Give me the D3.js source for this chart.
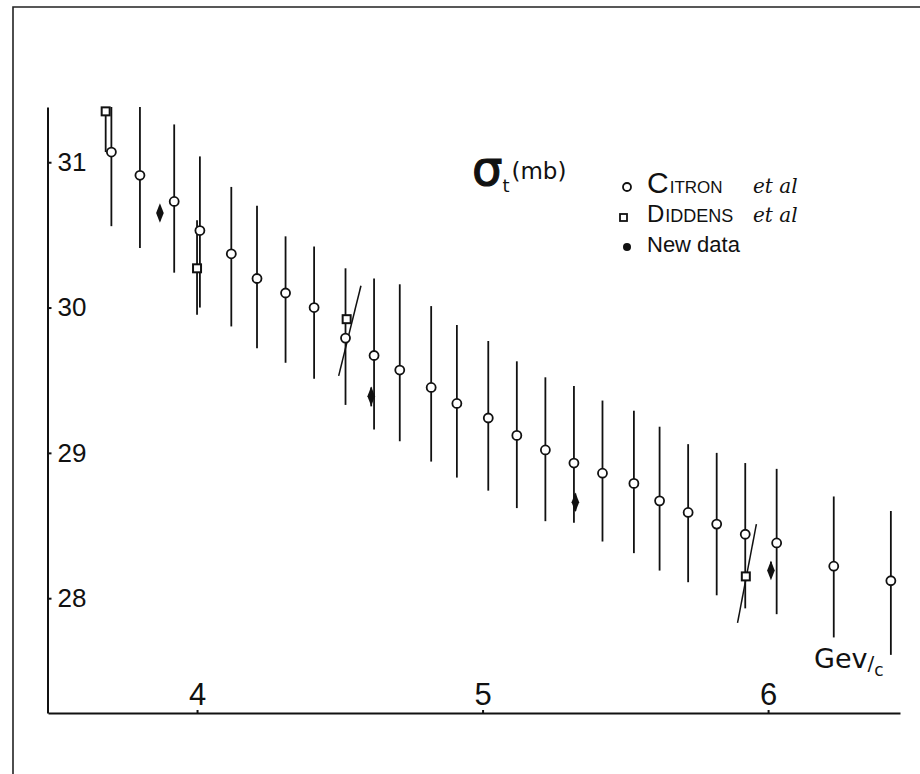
<!DOCTYPE html>
<html>
<head>
<meta charset="utf-8">
<script src="https://cdn.jsdelivr.net/npm/d3@7"></script>
<style>
  body { margin: 0; background: #fff; }
  svg { display: block; }
  text { font-family: "Liberation Sans", Arial, sans-serif; fill: #111; }
</style>
</head>
<body>
<svg id="chart" width="920" height="774"></svg>
<script>
// podatki -------------------------------------------------------------
// Citron et al: momentum (GeV/c), sigma_t (mb), error bar low / high
var citronP     = [3.70, 3.80, 3.92, 4.01, 4.12, 4.21, 4.31, 4.41, 4.52, 4.62, 4.71, 4.82, 4.91,
                   5.02, 5.12, 5.22, 5.32, 5.42, 5.53, 5.62, 5.72, 5.82, 5.92, 6.03, 6.23, 6.43];
var citronSigma = [31.07, 30.91, 30.73, 30.53, 30.37, 30.20, 30.10, 30.00, 29.79, 29.67, 29.57, 29.45, 29.34,
                   29.24, 29.12, 29.02, 28.93, 28.86, 28.79, 28.67, 28.59, 28.51, 28.44, 28.38, 28.22, 28.12];
var citronLow   = [30.56, 30.41, 30.24, 30.00, 29.87, 29.72, 29.62, 29.51, 29.33, 29.16, 29.08, 28.94, 28.83,
                   28.74, 28.62, 28.53, 28.52, 28.39, 28.31, 28.19, 28.11, 28.02, 27.93, 27.89, 27.73, 27.61];
var citronHigh  = [31.38, 31.38, 31.26, 31.04, 30.83, 30.70, 30.49, 30.42, 30.27, 30.20, 30.16, 30.01, 29.88,
                   29.77, 29.63, 29.52, 29.46, 29.36, 29.29, 29.18, 29.06, 29.00, 28.93, 28.89, 28.70, 28.60];

// Diddens et al
var diddensP     = [3.68, 4.00, 4.524, 5.922];
var diddensSigma = [31.35, 30.27, 29.92, 28.15];
var diddensLow   = [31.07, 29.95, null, null];
var diddensHigh  = [31.35, 30.60, null, null];

// poševni črti skozi dve Diddens točki
var slantP     = [[4.496, 4.574], [5.893, 5.959]];
var slantSigma = [[29.53, 30.15], [27.83, 28.51]];

// New data
var newP     = [3.87, 4.61, 5.325, 6.01];
var newSigma = [30.65, 29.39, 28.66, 28.19];
var newLow   = [30.60, 29.32, 28.60, 28.14];
var newHigh  = [30.69, 29.45, 28.72, 28.25];

var xTicks = [4, 5, 6];
var yTicks = [28, 29, 30, 31];

// ---------------------------------------------------------------------
var svg = d3.select("#chart");
var ink = "#111";

var x = d3.scaleLinear().domain([3.478, 6.462]).range([48, 900]);
var y = d3.scaleLinear().domain([27.21, 31.38]).range([713, 107]);

// okvir (zgoraj in levo)
svg.append("path")
  .attr("d", "M13,774 V7 H920")
  .attr("fill", "none")
  .attr("stroke", "#222")
  .attr("stroke-width", 1.6);

// osi
var yAxis = svg.append("g")
  .attr("transform", "translate(47.5,0)")
  .call(d3.axisRight(y).tickValues(yTicks).tickSize(4).tickSizeOuter(0).tickPadding(6).tickFormat(d3.format("d")));
yAxis.select(".domain").attr("stroke", ink).attr("stroke-width", 2);
yAxis.selectAll(".tick line").attr("stroke", ink).attr("stroke-width", 2);
yAxis.selectAll(".tick text").attr("font-size", 26).attr("fill", ink)
  .style("font-family", "'Liberation Sans', Arial, sans-serif");

var xAxis = svg.append("g")
  .attr("transform", "translate(0,713)")
  .call(d3.axisTop(x).tickValues(xTicks).tickSize(3).tickSizeOuter(0).tickPadding(5).tickFormat(d3.format("d")));
xAxis.select(".domain").attr("stroke", ink).attr("stroke-width", 2);
xAxis.selectAll(".tick line").attr("stroke", ink).attr("stroke-width", 2);
xAxis.selectAll(".tick text").attr("font-size", 31).attr("fill", ink)
  .style("font-family", "'Liberation Sans', Arial, sans-serif");

// tabele za risanje
var citron = citronP.map(function(p, i){
  return {p: p, s: citronSigma[i], lo: citronLow[i], hi: citronHigh[i]};
});
var diddens = diddensP.map(function(p, i){
  return {p: p, s: diddensSigma[i], lo: diddensLow[i], hi: diddensHigh[i]};
});
var newData = newP.map(function(p, i){
  return {p: p, s: newSigma[i], lo: newLow[i], hi: newHigh[i]};
});

// error bars
function bars(data, w) {
  svg.append("g")
    .selectAll("line")
    .data(data.filter(function(d){ return d.lo != null; }))
    .enter().append("line")
      .attr("x1", function(d){ return x(d.p); })
      .attr("x2", function(d){ return x(d.p); })
      .attr("y1", function(d){ return y(d.lo); })
      .attr("y2", function(d){ return y(d.hi); })
      .attr("stroke", ink)
      .attr("stroke-width", w);
}
bars(citron, 1.8);
bars(diddens, 1.8);
bars(newData, 1.8);

// poševne črte
svg.append("g")
  .selectAll("line")
  .data(slantP)
  .enter().append("line")
    .attr("x1", function(d){ return x(d[0]); })
    .attr("x2", function(d){ return x(d[1]); })
    .attr("y1", function(d, i){ return y(slantSigma[i][0]); })
    .attr("y2", function(d, i){ return y(slantSigma[i][1]); })
    .attr("stroke", ink)
    .attr("stroke-width", 1.5);

// oznake
svg.append("g")
  .selectAll("circle")
  .data(citron)
  .enter().append("circle")
    .attr("cx", function(d){ return x(d.p); })
    .attr("cy", function(d){ return y(d.s); })
    .attr("r", 4.5)
    .attr("fill", "#fff")
    .attr("stroke", ink)
    .attr("stroke-width", 1.8);

svg.append("g")
  .selectAll("rect")
  .data(diddens)
  .enter().append("rect")
    .attr("x", function(d){ return x(d.p) - 4; })
    .attr("y", function(d){ return y(d.s) - 4; })
    .attr("width", 8)
    .attr("height", 8)
    .attr("fill", "#fff")
    .attr("stroke", ink)
    .attr("stroke-width", 2);

var diamond = d3.symbol().type(d3.symbolDiamond).size(70);
svg.append("g")
  .selectAll("path")
  .data(newData)
  .enter().append("path")
    .attr("d", diamond)
    .attr("transform", function(d){ return "translate(" + x(d.p) + "," + y(d.s) + ") scale(0.85,1.25)"; })
    .attr("fill", ink);

// naslov sigma_t (mb)
var title = svg.append("text")
  .attr("x", 472)
  .attr("y", 185)
  .style("font-family", "'DejaVu Sans', sans-serif");
title.append("tspan").attr("font-size", 48).attr("stroke", ink).attr("stroke-width", 1.2).text("σ");
title.append("tspan").attr("font-size", 18).attr("dy", 7).text("t");
title.append("tspan").attr("font-size", 23).attr("dy", -13).attr("dx", 2).text("(mb)");

// legenda
var legendLabels = [["C", "ITRON"], ["D", "IDDENS"], ["New data", ""]];
var legendEtAl = ["et al", "et al", ""];
var legendY = [193, 222, 252];

svg.append("circle").attr("cx", 627).attr("cy", 187).attr("r", 4)
  .attr("fill", "#fff").attr("stroke", ink).attr("stroke-width", 1.8);
svg.append("rect").attr("x", 620).attr("y", 214).attr("width", 7).attr("height", 7)
  .attr("fill", "#fff").attr("stroke", ink).attr("stroke-width", 1.8);
svg.append("circle").attr("cx", 627).attr("cy", 247).attr("r", 4).attr("fill", ink);

var lt = svg.append("g")
  .selectAll("text")
  .data(legendLabels)
  .enter().append("text")
    .attr("x", 647)
    .attr("y", function(d, i){ return legendY[i]; });
lt.append("tspan")
  .attr("font-size", function(d, i){ return i == 0 ? 30 : (i == 1 ? 24 : 22); })
  .text(function(d){ return d[0]; });
lt.append("tspan")
  .attr("font-size", function(d, i){ return i == 0 ? 17 : 18; })
  .attr("dx", 1)
  .text(function(d){ return d[1]; });

svg.append("g")
  .selectAll("text")
  .data(legendEtAl)
  .enter().append("text")
    .attr("x", 753)
    .attr("y", function(d, i){ return legendY[i]; })
    .attr("font-size", 20)
    .style("font-family", "'DejaVu Serif', serif")
    .style("font-style", "italic")
    .text(function(d){ return d; });

// enota na osi x
var unit = svg.append("text")
  .attr("x", 814)
  .attr("y", 668)
  .attr("font-size", 27)
  .style("font-family", "'DejaVu Sans', sans-serif");
unit.append("tspan").text("Gev");
unit.append("tspan").attr("font-size", 20).attr("dy", 2).text("/");
unit.append("tspan").attr("font-size", 17).attr("dy", 6).text("c");
</script>
</body>
</html>
